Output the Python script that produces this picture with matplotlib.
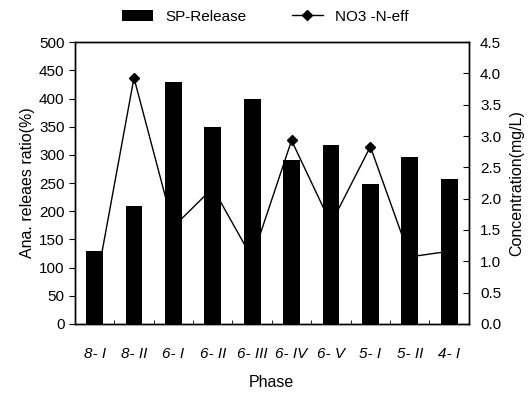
import numpy as np
import matplotlib.pyplot as plt

plt.rcParams['font.family'] = ['Liberation Sans', 'DejaVu Sans']

phases = ['8- I', '8- II', '6- I', '6- II', '6- III', '6- IV', '6- V', '5- I', '5- II', '4- I']
sp_release = [130, 210, 430, 350, 400, 290, 318, 248, 296, 257]
no3_eff = [0.5, 3.93, 1.55, 2.17, 1.05, 2.93, 1.6, 2.83, 1.07, 1.16]

x = np.arange(len(phases))

fig = plt.figure(figsize=(5.31, 3.94), dpi=100)
ax1 = fig.add_axes([0.141, 0.178, 0.742, 0.715])
ax2 = ax1.twinx()
# bars drawn over the line, as in the original
ax1.set_zorder(ax2.get_zorder() + 1)
ax1.patch.set_visible(False)

bars = ax1.bar(x, sp_release, width=0.43, color='black', label='SP-Release')
line, = ax2.plot(x, no3_eff, color='black', lw=1.0, marker='D', markersize=5,
                 label='NO3 -N-eff')

ax1.set_xlim(-0.5, len(phases) - 0.5)
ax1.set_ylim(0, 500)
ax1.set_yticks(np.arange(0, 501, 50))
ax2.set_ylim(0, 4.5)
ax2.set_yticks(np.arange(0, 4.51, 0.5))
ax2.set_yticklabels([f'{v:.1f}' for v in np.arange(0, 4.51, 0.5)])

ax1.set_xticks(x)
ax1.set_xticklabels(phases, fontsize=11, style='italic')
ax1.set_xticks(np.arange(0.5, len(phases) - 0.5, 1), minor=True)
ax1.tick_params(axis='x', which='major', length=0, pad=17)
ax1.tick_params(axis='x', which='minor', direction='in', length=3)
ax1.tick_params(axis='y', direction='out', length=4, labelsize=11)
ax2.tick_params(axis='y', direction='in', length=4, labelsize=11, pad=8)

ax1.set_xlabel('Phase', fontsize=11.5, labelpad=10)
ax1.set_ylabel('Ana. releaes ratio(%)', fontsize=11.5, labelpad=3)
ax2.set_ylabel('Concentration(mg/L)', fontsize=11.5, labelpad=6)

for ax in (ax1, ax2):
    for s in ax.spines.values():
        s.set_linewidth(1.0)

fig.legend([bars, line], ['SP-Release', 'NO3 -N-eff'], loc='upper center',
           bbox_to_anchor=(0.5, 1.01), ncol=2, frameon=False, fontsize=11,
           handlelength=2.0, columnspacing=3.0)

fig.savefig('out.png', dpi=100)
